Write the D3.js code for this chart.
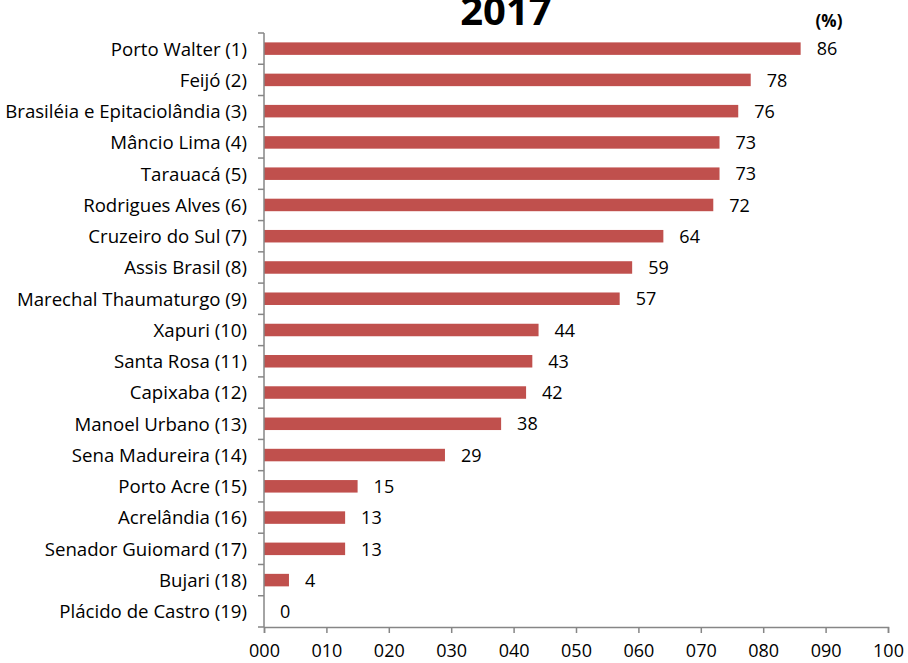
<!DOCTYPE html>
<html>
<head>
<meta charset="utf-8">
<script src="https://cdnjs.cloudflare.com/ajax/libs/d3/7.8.5/d3.min.js"></script>
<style>
  body { margin: 0; background: #fff; }
  text { font-family: "Open Sans", sans-serif; }
</style>
</head>
<body>
<div id="chart"></div>
<script>
const categories = [
  "Porto Walter (1)", "Feijó (2)", "Brasiléia e Epitaciolândia (3)", "Mâncio Lima (4)",
  "Tarauacá (5)", "Rodrigues Alves (6)", "Cruzeiro do Sul (7)", "Assis Brasil (8)",
  "Marechal Thaumaturgo (9)", "Xapuri (10)", "Santa Rosa (11)", "Capixaba (12)",
  "Manoel Urbano (13)", "Sena Madureira (14)", "Porto Acre (15)", "Acrelândia (16)",
  "Senador Guiomard (17)", "Bujari (18)", "Plácido de Castro (19)"
];
const values = [86, 78, 76, 73, 73, 72, 64, 59, 57, 44, 43, 42, 38, 29, 15, 13, 13, 4, 0];
const xTicks = [0, 10, 20, 30, 40, 50, 60, 70, 80, 90, 100];

const width = 908, height = 663;
const margin = { top: 33, right: 20, bottom: 36, left: 264 };
const axisColor = "#868686";

const svg = d3.select("#chart").append("svg")
  .attr("width", width)
  .attr("height", height);

const x = d3.scaleLinear()
  .domain([0, 100])
  .range([margin.left, width - margin.right]);

const y = d3.scaleBand()
  .domain(categories)
  .range([margin.top, height - margin.bottom])
  .paddingInner(0.6)
  .paddingOuter(0.3);

// bars
svg.selectAll(".bar")
  .data(values)
  .enter()
  .append("rect")
  .attr("class", "bar")
  .attr("x", x(0))
  .attr("y", (d, i) => y(categories[i]))
  .attr("width", d => x(d) - x(0))
  .attr("height", y.bandwidth())
  .attr("fill", "#C0504D");

// value labels
svg.selectAll(".val")
  .data(values)
  .enter()
  .append("text")
  .attr("class", "val")
  .attr("x", d => x(d) + 16)
  .attr("y", (d, i) => y(categories[i]) + y.bandwidth() / 2)
  .attr("dy", "0.37em")
  .attr("font-size", 18)
  .attr("fill", "#000")
  .text(d => d);

// x axis
const xAxis = svg.append("g")
  .attr("transform", `translate(0,${height - margin.bottom})`)
  .call(d3.axisBottom(x).tickValues(xTicks).tickSize(6).tickPadding(11)
    .tickFormat(d => d3.format("03d")(d)));
xAxis.select(".domain").attr("stroke", axisColor).attr("stroke-width", 1.5);
xAxis.selectAll(".tick line").attr("stroke", axisColor).attr("stroke-width", 1.5);
xAxis.selectAll("text").attr("font-size", 18).attr("fill", "#000")
  .attr("font-family", "'Open Sans', sans-serif");

// y axis: ticks sit on category boundaries
const yTop = margin.top, yBottom = height - margin.bottom;
svg.append("line")
  .attr("x1", x(0)).attr("x2", x(0))
  .attr("y1", yTop).attr("y2", yBottom)
  .attr("stroke", axisColor)
  .attr("stroke-width", 1.5);
const bounds = d3.range(categories.length + 1).map(i => yTop + i * y.step());
svg.selectAll(".ytick")
  .data(bounds)
  .enter()
  .append("line")
  .attr("x1", x(0) - 6).attr("x2", x(0))
  .attr("y1", d => d).attr("y2", d => d)
  .attr("stroke", axisColor)
  .attr("stroke-width", 1.5);

const cats = svg.selectAll(".cat")
  .data(categories)
  .enter()
  .append("text")
  .attr("class", "cat")
  .attr("x", x(0) - 17)
  .attr("y", d => y(d) + y.bandwidth() / 2)
  .attr("dy", "0.37em")
  .attr("text-anchor", "end")
  .attr("font-size", 16)
  .attr("fill", "#000")
  .text(d => d);

// fit the longest category label into the space left of the axis
let widest = 0;
cats.each(function() { widest = Math.max(widest, this.getComputedTextLength()); });
const catSize = 16 * 242 / widest;
cats.attr("font-size", catSize);

// title (its top is cut by the edge, as in the original)
svg.append("text")
  .attr("x", 506)
  .attr("y", 25)
  .attr("text-anchor", "middle")
  .attr("font-size", 40)
  .attr("font-weight", "bold")
  .text("2017");

svg.append("text")
  .attr("x", 829)
  .attr("y", 27)
  .attr("text-anchor", "middle")
  .attr("font-size", 17)
  .attr("font-weight", "bold")
  .text("(%)");
</script>
</body>
</html>
